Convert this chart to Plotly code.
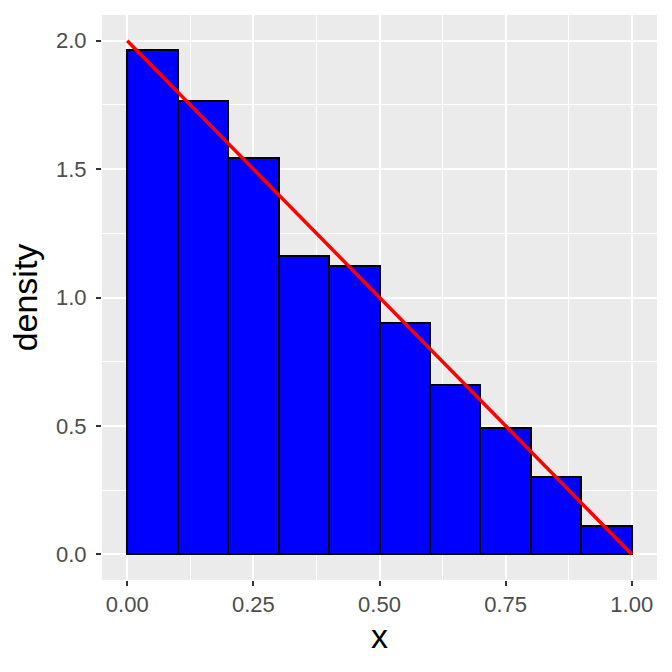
import plotly.graph_objects as go

# histogram bins (left edges) and densities
bin_left = [0.0, 0.1, 0.2, 0.3, 0.4, 0.5, 0.6, 0.7, 0.8, 0.9]
density = [1.965, 1.764, 1.544, 1.163, 1.122, 0.902, 0.661, 0.493, 0.301, 0.110]
bin_width = 0.1

# theoretical density f(x) = 2(1 - x)
line_x = [0.0, 1.0]
line_y = [2.0, 0.0]

x_ticks = [0.0, 0.25, 0.5, 0.75, 1.0]
x_labels = ["0.00", "0.25", "0.50", "0.75", "1.00"]
y_ticks = [0.0, 0.5, 1.0, 1.5, 2.0]
y_labels = ["0.0", "0.5", "1.0", "1.5", "2.0"]

FONT = "Liberation Sans, Arial, sans-serif"

fig = go.Figure()

fig.add_trace(go.Bar(
    x=[b + bin_width / 2 for b in bin_left],
    y=density,
    width=bin_width,
    marker=dict(color="#0000FF", line=dict(color="black", width=2)),
    showlegend=False,
))

fig.add_trace(go.Scatter(
    x=line_x, y=line_y,
    mode="lines",
    line=dict(color="#FF0000", width=3.5),
    showlegend=False,
))

axis_common = dict(
    showgrid=True,
    gridcolor="white",
    gridwidth=2,
    zeroline=False,
    ticks="outside",
    ticklen=5,
    tickwidth=2,
    tickcolor="#333333",
    tickfont=dict(family=FONT, size=22, color="#4D4D4D"),
    minor=dict(showgrid=True, gridcolor="white", gridwidth=1, ticks=""),
    showline=False,
    automargin=False,
)

fig.update_layout(
    width=672, height=672,
    margin=dict(l=102, r=15, t=15, b=92),
    paper_bgcolor="white",
    plot_bgcolor="#EBEBEB",
    bargap=0,
    xaxis=dict(
        range=[-0.05, 1.05],
        tickvals=x_ticks, ticktext=x_labels,
        minor_tickvals=[0.125, 0.375, 0.625, 0.875],
        title=dict(text="x", font=dict(family=FONT, size=34, color="black"), standoff=6),
        **axis_common,
    ),
    yaxis=dict(
        range=[-0.1, 2.1],
        tickvals=y_ticks, ticktext=y_labels,
        minor_tickvals=[0.25, 0.75, 1.25, 1.75],
        ticklabelstandoff=5,
        title=dict(text="density", font=dict(family=FONT, size=34, color="black"), standoff=8),
        **axis_common,
    ),
)

fig.write_html("out.html", config={"displayModeBar": False},
               post_script="document.body.style.margin='0';")
